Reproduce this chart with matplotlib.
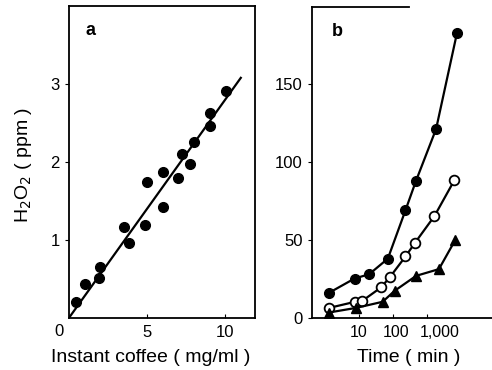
import matplotlib.pyplot as plt
import matplotlib.transforms as mtransforms
import numpy as np

plt.rcParams['font.family'] = ['Liberation Sans', 'DejaVu Sans']

# panel a: H2O2 vs instant coffee concentration
coffee = [0.45, 1.03, 1.94, 1.99, 3.53, 3.87, 4.87, 4.98, 6.05, 6.05,
          6.97, 7.24, 7.76, 7.99, 9.0, 9.04, 10.06]
h2o2 = [0.20, 0.44, 0.51, 0.65, 1.17, 0.96, 1.19, 1.75, 1.43, 1.87,
        1.80, 2.10, 1.97, 2.26, 2.46, 2.63, 2.91]
fit_x = [0.0, 11.0]
fit_y = [0.0, 3.08]

# panel b: H2O2 vs time (three series)
t_filled = [1.3, 7.5, 20, 71, 234, 470, 1850, 7600]
y_filled = [16, 25.3, 28, 38, 69, 87.5, 121, 182.5]
t_open = [1.3, 7.8, 12.3, 45, 83, 234, 450, 1660, 6400]
y_open = [6.4, 10.4, 10.8, 19.6, 26.4, 39.4, 48.3, 65.3, 88.3]
t_tri = [1.3, 8.4, 50, 112, 480, 2240, 6700]
y_tri = [3.5, 6.5, 10.4, 17.4, 27, 31.3, 49.8]
time_ticks = [10, 100, 1000]
time_labels = ['10', '100', '1,000']

fig = plt.figure(figsize=(4.92, 3.70), dpi=100)

fs = 12
lfs = 14
ax1 = fig.add_axes([0.140, 0.1405, 0.378, 0.843])
ax1.plot(fit_x, fit_y, c='black', lw=1.6)
ax1.plot(coffee, h2o2, 'o', c='black', ms=7)
ax1.set_xlim(0, 11.9)
ax1.set_ylim(0, 4.0)
ax1.set_xticks([5, 10])
ax1.set_yticks([1, 2, 3])
ax1.tick_params(axis='x', direction='in', length=3, labelsize=fs, pad=5)
ax1.tick_params(axis='y', direction='out', length=3, labelsize=fs)
ax1.text(-0.055, -0.02, '0', transform=ax1.transAxes, fontsize=fs,
         ha='center', va='top')
ax1.set_xlabel('Instant coffee ( mg/ml )', fontsize=lfs)
ax1.xaxis.label.set_va('center')
ax1.xaxis.set_label_coords(0.438, -0.128)
ax1.set_ylabel('H$_2$O$_2$ ( ppm )', fontsize=lfs)
ax1.yaxis.label.set_va('center')
ax1.yaxis.set_label_coords(-0.245, 0.49)
ax1.text(0.09, 0.95, 'a', transform=ax1.transAxes, fontsize=13,
         weight='bold', ha='left', va='top')
for s in ax1.spines.values():
    s.set_linewidth(1.3)

ax2 = fig.add_axes([0.634, 0.1405, 0.366, 0.840])
ax2.plot(t_filled, y_filled, '-o', c='black', lw=1.6, ms=7)
ax2.plot(t_open, y_open, '-o', c='black', lw=1.6, ms=7,
         mfc='white', mew=1.3)
ax2.plot(t_tri, y_tri, '-^', c='black', lw=1.6, ms=7)
ax2.set_xscale('log')
ax2.set_xlim(0.42, 81000)
ax2.set_ylim(0, 199)
ax2.set_xticks(time_ticks)
ax2.set_xticklabels(time_labels)
ax2.minorticks_off()
ax2.set_yticks([0, 50, 100, 150])
ax2.tick_params(axis='x', direction='in', length=3, labelsize=11.5, pad=5)
ax2.tick_params(axis='y', direction='out', length=3, labelsize=fs)
# nudge tick labels like the original typesetting
shifts = [0, 3, 13]
for lab, dx in zip(ax2.get_xticklabels(), shifts):
    lab.set_transform(lab.get_transform() +
                      mtransforms.ScaledTranslation(dx / 100, 0, fig.dpi_scale_trans))
ax2.set_xlabel('Time ( min )', fontsize=lfs)
ax2.xaxis.label.set_va('center')
ax2.xaxis.set_label_coords(0.54, -0.128)
ax2.text(0.11, 0.95, 'b', transform=ax2.transAxes, fontsize=13,
         weight='bold', ha='left', va='top')
ax2.spines['right'].set_visible(False)
ax2.spines['top'].set_bounds(0.42, 300)
for s in ax2.spines.values():
    s.set_linewidth(1.3)

plt.savefig('out.png', dpi=100)
